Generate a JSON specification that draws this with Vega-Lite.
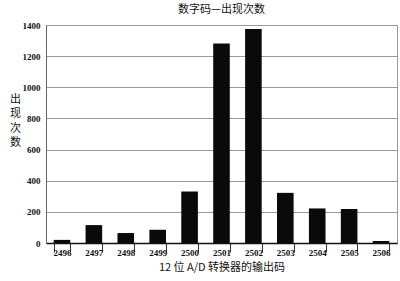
{
  "$schema": "https://vega.github.io/schema/vega-lite/v6.json",
  "autosize": "none",
  "width": 351,
  "height": 218,
  "padding": {"left": 46, "top": 25, "right": 3, "bottom": 38},
  "background": "white",
  "title": {"text": "数字码—出现次数", "font": "Noto Sans CJK SC", "fontSize": 11, "fontWeight": "normal", "color": "#111", "offset": 6},
  "config": {"view": {"stroke": "#999", "strokeWidth": 1}},
  "data": {"values": [
    {"code": "2496", "count": 20},
    {"code": "2497", "count": 115},
    {"code": "2498", "count": 64},
    {"code": "2499", "count": 85},
    {"code": "2500", "count": 330},
    {"code": "2501", "count": 1281},
    {"code": "2502", "count": 1374},
    {"code": "2503", "count": 322},
    {"code": "2504", "count": 222},
    {"code": "2505", "count": 218},
    {"code": "2506", "count": 13}
  ]},
  "mark": {"type": "bar", "color": "#0a0a0a"},
  "encoding": {
    "x": {"field": "code", "type": "ordinal", "sort": null,
      "scale": {"paddingInner": 0.48, "paddingOuter": 0.24},
      "axis": {"title": "12 位 A/D 转换器的输出码", "titleFont": "Noto Sans CJK SC", "titleFontSize": 11, "titleFontWeight": "normal", "titleColor": "#111", "titlePadding": 4,
        "labelAngle": 0, "labelFont": "Liberation Serif", "labelFontSize": 9, "labelFontWeight": "bold", "labelColor": "#111", "labelPadding": -4,
        "tickBand": "extent", "tickSize": 9, "tickColor": "#333", "domainColor": "#111", "domainWidth": 1.5}},
    "y": {"field": "count", "type": "quantitative",
      "scale": {"domain": [0, 1400]},
      "axis": {"values": [0, 200, 400, 600, 800, 1000, 1200, 1400], "format": "d", "title": ["出", "现", "次", "数"], "titleAngle": 0, "titleFont": "Noto Sans CJK SC", "titleFontSize": 11, "titleFontWeight": "normal", "titleColor": "#111", "titleX": -31, "titleY": 68, "titleAlign": "center", "titleBaseline": "top", "titleLineHeight": 14.5,
        "labelFont": "Liberation Serif", "labelFontSize": 9, "labelFontWeight": "bold", "labelColor": "#111", "labelPadding": 6,
        "ticks": false, "grid": true, "gridColor": "#999", "gridWidth": 1, "domainColor": "#666"}}
  }
}
